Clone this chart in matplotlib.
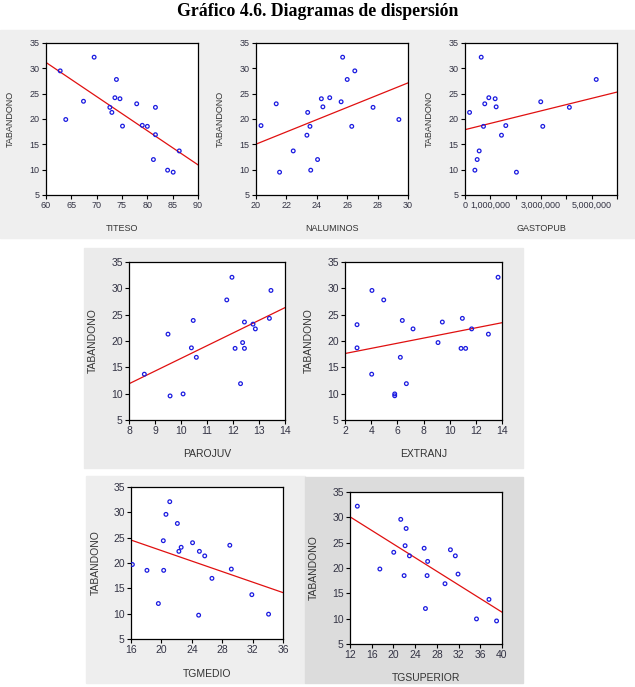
import numpy as np
import matplotlib
matplotlib.use("Agg")
from matplotlib import pyplot as plt
from matplotlib.patches import Rectangle

plt.rcParams['font.family'] = ['Liberation Sans', 'DejaVu Sans']

# datos (TABANDONO frente a cada variable)
titeso_x = [62.8, 63.9, 67.4, 69.5, 72.6, 73.0, 73.6, 73.9, 74.6, 75.1, 77.9, 79.0, 80.0, 81.2, 81.6, 81.6, 84.0, 85.1, 86.3]
titeso_y = [29.5, 19.9, 23.5, 32.2, 22.3, 21.3, 24.2, 27.8, 24.0, 18.6, 23.0, 18.75, 18.55, 12.0, 22.3, 16.9, 9.9, 9.5, 13.7]

nalum_x = [20.33, 21.33, 21.55, 22.45, 23.35, 23.4, 23.55, 23.6, 24.05, 24.3, 24.4, 24.85, 25.6, 25.7, 26.0, 26.3, 26.5, 27.7, 29.4]
nalum_y = [18.7, 23.0, 9.5, 13.7, 16.8, 21.3, 18.55, 9.9, 12.0, 24.0, 22.4, 24.2, 23.4, 32.2, 27.8, 18.55, 29.5, 22.3, 19.9]

gasto_x = [0.18, 0.39, 0.48, 0.56, 0.64, 0.73, 0.78, 0.94, 1.19, 1.23, 1.44, 1.61, 2.03, 2.99, 3.07, 4.12, 5.18]
gasto_x = [v * 1e6 for v in gasto_x]
gasto_y = [21.3, 9.9, 12.0, 13.7, 32.2, 18.55, 23.0, 24.2, 24.0, 22.4, 16.8, 18.7, 9.5, 23.4, 18.55, 22.3, 27.8]

parojuv_x = [8.59, 9.5, 9.58, 10.08, 10.4, 10.47, 10.59, 11.76, 11.96, 12.08, 12.29, 12.37, 12.44, 12.44, 12.77, 12.86, 13.4, 13.46]
parojuv_y = [13.7, 21.3, 9.57, 9.95, 18.7, 23.9, 16.9, 27.8, 32.1, 18.6, 11.9, 19.7, 23.6, 18.6, 23.2, 22.3, 24.3, 29.6]

extranj_x = [2.92, 2.92, 4.04, 4.06, 4.96, 5.8, 5.8, 6.23, 6.38, 6.69, 7.2, 9.11, 9.44, 10.87, 10.97, 11.22, 11.68, 12.96, 13.7]
extranj_y = [23.1, 18.7, 13.7, 29.6, 27.8, 9.95, 9.6, 16.9, 23.9, 11.9, 22.3, 19.7, 23.6, 18.6, 24.3, 18.6, 22.3, 21.3, 32.1]

tgmedio_x = [16.18, 18.1, 19.6, 20.25, 20.3, 20.6, 21.1, 22.1, 22.3, 22.6, 24.1, 24.9, 25.0, 25.7, 26.65, 29.0, 29.2, 31.9, 34.1]
tgmedio_y = [19.7, 18.55, 12.0, 24.4, 18.55, 29.6, 32.1, 27.8, 22.3, 23.1, 24.0, 9.7, 22.3, 21.4, 16.97, 23.5, 18.8, 13.75, 9.9]

tgsup_x = [13.35, 17.5, 20.06, 21.35, 21.97, 22.15, 22.34, 22.95, 25.66, 25.9, 26.3, 26.2, 29.5, 30.5, 31.4, 31.9, 35.3, 37.6, 39.0]
tgsup_y = [32.2, 19.8, 23.1, 29.6, 18.5, 24.4, 27.8, 22.4, 23.9, 12.0, 21.3, 18.5, 16.9, 23.6, 22.4, 18.8, 9.95, 13.8, 9.55]

W, H = 635, 687
fig = plt.figure(figsize=(W / 100, H / 100), dpi=100)


def box(x0, y0, x1, y1, color):
    fig.patches.append(Rectangle((x0 / W, 1 - y1 / H), (x1 - x0) / W, (y1 - y0) / H,
                                 transform=fig.transFigure, color=color, zorder=-5))


# fondos grises
box(0, 30, 635, 238, '#efefef')
box(84, 248, 523, 468, '#ebebeb')
box(86, 476, 305, 683, '#eeeeee')
box(305, 477, 523, 683, '#dcdcdc')

fig.text(0.5, 1 - 12 / H, 'Gráfico 4.6. Diagramas de dispersión', ha='center', va='center',
         fontsize=12.8, fontweight='bold', family=['Liberation Serif'])


def panel(x0, y0, x1, y1, x, y, xlim, xticks, xlabel, fs=6.5, xtlabels=None, ylab_x=None, xlab_y=None):
    ax = fig.add_axes([x0 / W, 1 - y1 / H, (x1 - x0) / W, (y1 - y0) / H])
    ax.set_zorder(5)
    ax.set_facecolor('white')
    ax.scatter(x, y, s=7, facecolors='none', edgecolors='#1a1ae0', linewidths=0.9, zorder=3)
    b, a = np.polyfit(x, y, 1)
    xs = np.array(xlim)
    ax.plot(xs, a + b * xs, color='#e01010', lw=0.9, zorder=2)
    ax.set_xlim(xlim)
    ax.set_ylim(5, 35)
    ax.set_yticks([5, 10, 15, 20, 25, 30, 35])
    ax.set_xticks(xticks)
    if xtlabels is not None:
        ax.set_xticklabels(xtlabels)
    for s in ax.spines.values():
        s.set_linewidth(0.9)
    ax.tick_params(length=3, width=0.8, labelsize=fs, colors='black', labelcolor='#333344', pad=1.5)
    ax.set_ylabel('TABANDONO', fontsize=fs, color='#333333')
    ax.set_xlabel(xlabel, fontsize=fs, color='#333333')
    if ylab_x is not None:
        ax.yaxis.set_label_coords((ylab_x - x0) / (x1 - x0), 0.5)
    if xlab_y is not None:
        ax.xaxis.set_label_coords(0.5, (y1 - xlab_y) / (y1 - y0))
    return ax


panel(46, 43, 198, 195, titeso_x, titeso_y, (60, 90), range(60, 91, 5), 'TITESO',
      ylab_x=15, xlab_y=224)
panel(256, 43, 408, 195, nalum_x, nalum_y, (20, 30), range(20, 31, 2), 'NALUMINOS',
      ylab_x=225, xlab_y=224)
panel(465, 43, 617, 195, gasto_x, gasto_y, (0, 6e6), [i * 1e6 for i in range(7)], 'GASTOPUB',
      xtlabels=['0', '1,000,000', '', '3,000,000', '', '5,000,000', ''], ylab_x=434, xlab_y=224)

panel(129, 262, 285, 420, parojuv_x, parojuv_y, (8, 14), range(8, 15), 'PAROJUV', fs=7.5,
      ylab_x=98, xlab_y=449)
panel(345, 262, 502, 420, extranj_x, extranj_y, (2, 14), range(2, 15, 2), 'EXTRANJ', fs=7.5,
      ylab_x=314, xlab_y=449)

panel(131, 487, 283, 639, tgmedio_x, tgmedio_y, (16, 36), range(16, 37, 4), 'TGMEDIO', fs=7.5,
      ylab_x=101, xlab_y=669)
panel(350, 492, 502, 644, tgsup_x, tgsup_y, (12, 40), range(12, 41, 4), 'TGSUPERIOR', fs=7.5,
      ylab_x=319, xlab_y=673)

fig.savefig('out.png', dpi=100, facecolor='white')
